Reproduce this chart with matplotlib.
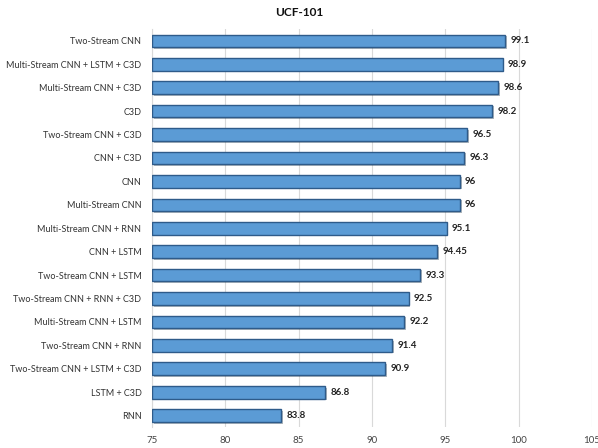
import matplotlib
matplotlib.use("Agg")
import matplotlib.pyplot as plt
import matplotlib.patheffects as pe

plt.rcParams['font.family'] = ['Lato', 'DejaVu Sans']

methods = [
    "Two-Stream CNN",
    "Multi-Stream CNN + LSTM + C3D",
    "Multi-Stream CNN + C3D",
    "C3D",
    "Two-Stream CNN + C3D",
    "CNN + C3D",
    "CNN",
    "Multi-Stream CNN",
    "Multi-Stream CNN + RNN",
    "CNN + LSTM",
    "Two-Stream CNN + LSTM",
    "Two-Stream CNN + RNN + C3D",
    "Multi-Stream CNN + LSTM",
    "Two-Stream CNN + RNN",
    "Two-Stream CNN + LSTM + C3D",
    "LSTM + C3D",
    "RNN",
]
accuracy = [99.1, 98.9, 98.6, 98.2, 96.5, 96.3, 96, 96, 95.1, 94.45,
            93.3, 92.5, 92.2, 91.4, 90.9, 86.8, 83.8]
value_labels = ["99.1", "98.9", "98.6", "98.2", "96.5", "96.3", "96", "96",
                "95.1", "94.45", "93.3", "92.5", "92.2", "91.4", "90.9",
                "86.8", "83.8"]
x_ticks = [75, 80, 85, 90, 95, 100, 105]

fig = plt.figure(figsize=(5.98, 4.48), dpi=100)
ax = fig.add_axes([0.254, 0.046, 0.736, 0.889])

base = 75
ypos = list(range(len(methods)))
widths = [v - base for v in accuracy]
bars = ax.barh(ypos, widths, left=base, height=0.54, color="#5B9BD5",
               edgecolor="#2E5B8A", linewidth=1.0, zorder=3)
for b in bars:
    b.set_path_effects([pe.SimplePatchShadow(offset=(1.2, -1.2), alpha=0.35),
                        pe.Normal()])

for y, v, lab in zip(ypos, accuracy, value_labels):
    ax.text(v + 0.35, y, lab, va="center", ha="left", fontsize=7,
            fontweight="bold", color="#222222", zorder=4)

ax.set_xlim(75, 105)
ax.set_ylim(len(methods) - 0.5, -0.5)
ax.set_xticks(x_ticks)
ax.set_xticklabels([str(t) for t in x_ticks], fontsize=7, color="#444444")
ax.set_yticks(ypos)
ax.set_yticklabels(methods, fontsize=6.5, color="#333333")
ax.tick_params(axis="both", length=0, pad=6)
ax.tick_params(axis="y", pad=7.5)

ax.grid(axis="x", color="#D9D9D9", linewidth=0.8, zorder=0)
for s in ["top", "right", "bottom"]:
    ax.spines[s].set_visible(False)
ax.spines["left"].set_color("#D9D9D9")
ax.spines["left"].set_linewidth(0.8)

fig.text(0.5, 0.972, "UCF-101", ha="center", va="center", fontsize=8.5,
         fontweight="bold", color="#111111")

fig.savefig("out.png", dpi=100)
